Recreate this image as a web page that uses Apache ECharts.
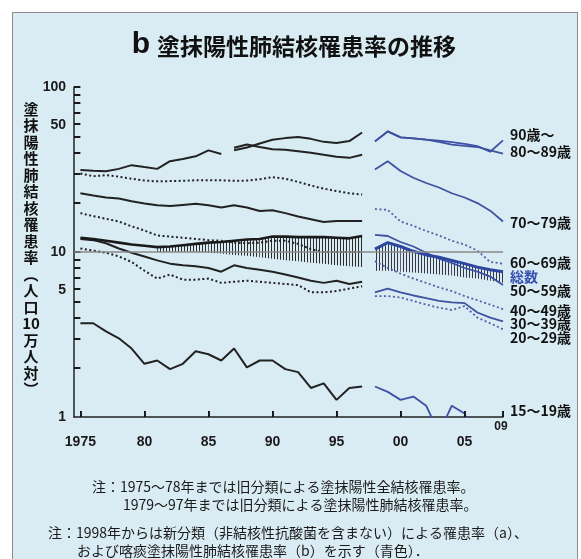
<!DOCTYPE html>
<html>
<head>
<meta charset="utf-8">
<script src="https://cdn.jsdelivr.net/npm/echarts@6/dist/echarts.min.js"></script>
<style>
  html, body { margin: 0; background: #fff; }
  .frame { position: absolute; left: 12px; top: 12px; width: 564px; height: 560px; border: 1.5px solid #8c8c8c; background: #d9ebf3; }
  #chart { position: absolute; left: 0; top: 0; width: 581px; height: 559px; }
</style>
</head>
<body>
<div class="frame"></div>
<div id="chart"></div>
<script>
// 年
const yearsOld = [1975, 1976, 1977, 1978, 1979, 1980, 1981, 1982, 1983, 1984, 1985, 1986,
  1987, 1988, 1989, 1990, 1991, 1992, 1993, 1994, 1995, 1996, 1997];
const yearsNew = [1998, 1999, 2000, 2001, 2002, 2003, 2004, 2005, 2006, 2007, 2008];
const years80Old = yearsOld.slice(0, 12);   // 1975-86 (80歳以上)
const years90Old = yearsOld.slice(12);      // 1987-97
const yearsBandOld = yearsOld.slice(6);     // 1981-97

// 旧分類 (黒)
const age80plusOld = [31.4, 31.1, 30.9, 31.9, 33.6, 32.7, 31.9, 35.5, 36.6, 38.0, 41.3, 39.3];
const age90Old = [41.4, 43.0, 45.5, 47.9, 49.0, 49.8, 48.5, 46.5, 45.8, 47.0, 53.0];
const age80Old = [42.8, 44.8, 43.3, 42.0, 41.7, 40.8, 39.9, 38.8, 37.8, 37.2, 38.9];
const age70Old = [29.9, 28.8, 29.2, 28.6, 27.8, 27.1, 26.8, 26.9, 27.0, 27.2, 27.2, 27.2,
  27.0, 27.1, 27.6, 28.4, 27.8, 26.6, 25.3, 24.2, 23.4, 22.7, 22.3];
const age60Old = [22.7, 22.0, 21.4, 21.1, 20.3, 19.7, 19.2, 19.0, 19.3, 19.6, 19.2, 18.6,
  19.2, 18.6, 17.7, 17.9, 17.2, 16.4, 15.8, 15.2, 15.4, 15.4, 15.4];
const age50Old = [17.2, 16.5, 15.9, 15.3, 14.3, 13.5, 12.6, 12.4, 12.2, 12.0, 11.8, 11.7,
  11.4, 11.3, 11.4, 11.7, 11.7, 11.2, 10.4, 10.0, 10.0, 10.0, 10.0];
const totalOld = [12.2, 12.0, 11.7, 11.4, 11.1, 10.9, 10.7, 10.8, 11.0, 11.2, 11.4, 11.5,
  11.7, 11.9, 12.0, 12.4, 12.4, 12.3, 12.3, 12.3, 12.2, 12.1, 12.5];
const hatchLowOld = [10.0, 10.0, 10.0, 10.0, 9.9, 9.8, 9.6, 9.5, 9.3, 9.1, 8.9, 8.8, 8.6, 8.5, 8.3, 8.2, 8.1];
const age40Old = [12.0, 11.8, 11.3, 10.5, 9.9, 9.4, 8.9, 8.5, 8.3, 8.2, 8.0, 7.6,
  8.3, 8.0, 7.8, 7.6, 7.3, 7.0, 6.7, 6.5, 6.7, 6.4, 6.6];
const age30Old = [10.5, 10.2, 9.9, 9.4, 8.7, 7.7, 6.9, 7.3, 6.8, 6.8, 6.9, 6.5,
  6.6, 6.7, 6.6, 6.5, 6.4, 6.3, 5.7, 5.7, 5.8, 6.0, 6.2];
const age15Old = [3.7, 3.7, 3.3, 3.0, 2.6, 2.1, 2.2, 1.95, 2.1, 2.5, 2.4, 2.2,
  2.6, 2.0, 2.2, 2.2, 1.95, 1.87, 1.5, 1.6, 1.27, 1.5, 1.53];

// 新分類 1998年～ (青)
const age90New = [46.8, 53.8, 49.5, 48.8, 48.0, 47.3, 46.4, 45.2, 43.8, 40.5, 47.5];
const age80New = [46.8, 53.8, 49.5, 48.8, 48.0, 46.5, 44.8, 44.0, 43.3, 41.3, 39.5];
const age70New = [31.6, 35.5, 31.0, 28.2, 26.2, 24.6, 22.7, 21.4, 19.8, 17.8, 15.3];
const age60New = [18.2, 18.0, 15.3, 14.4, 13.4, 12.6, 11.7, 11.1, 10.2, 8.7, 8.5];
const age50New = [12.7, 12.5, 11.5, 10.8, 9.9, 9.1, 8.6, 8.0, 7.6, 7.1, 6.3];
const totalNew = [10.4, 11.4, 10.8, 10.1, 9.6, 9.3, 8.9, 8.5, 8.1, 7.8, 7.6];
const hatchLowNew = [7.7, 7.7, 7.6, 7.5, 7.4, 7.3, 7.2, 7.0, 6.9, 6.7, 6.5];
const age40New = [8.8, 8.0, 7.4, 6.9, 6.5, 6.1, 5.8, 5.4, 5.1, 4.8, 4.5];
const age30New = [5.7, 6.0, 5.7, 5.45, 5.25, 5.05, 4.95, 4.9, 4.3, 4.0, 3.8];
const age20New = [5.4, 5.4, 5.3, 5.05, 4.8, 4.6, 4.45, 4.7, 4.0, 3.7, 3.4];
const age15New = [1.53, 1.42, 1.27, 1.33, 1.17, 0.8, 1.17, 1.05, 0.6, null, null];

// 目盛
const xMin = 1974.5;
const xMax = 2008;
const xTickYears = [1975, 1980, 1985, 1990, 1995, 2000, 2005, 2008];
const xLabelYears = [1975, 1980, 1985, 1990, 1995, 2000, 2005];
const yTickValues = [2, 3, 4, 5, 6, 7, 8, 9, 10, 20, 30, 40, 50, 60, 70, 80, 90, 100];
const yLabelValues = [1, 5, 10, 50, 100];

const ageLabels = ['90歳～', '80～89歳', '70～79歳', '60～69歳', '総数', '50～59歳',
  '40～49歳', '30～39歳', '20～29歳', '15～19歳'];

const JP = '"Noto Sans CJK JP", sans-serif';
const NUM = '"Liberation Sans", Arial, sans-serif';
const BLACK = '#222';
const BLUE = '#3d52a3';
const BLUE_DOT = '#5060a8';

function pairs(xs, ys) {
  return xs.map((x, i) => [x, ys[i]]);
}

// 縦線のハッチ
function hatch(color) {
  const c = document.createElement('canvas');
  c.width = 3;
  c.height = 4;
  const ctx = c.getContext('2d');
  ctx.fillStyle = color;
  ctx.fillRect(1, 0, 1, 4);
  return c;
}

function line(name, xs, ys, color, width, dotted) {
  return {
    name: name,
    type: 'line',
    data: pairs(xs, ys),
    symbol: 'none',
    silent: true,
    z: 3,
    lineStyle: { color: color, width: width, type: dotted ? [2, 2.5] : 'solid' },
  };
}

// 総数の下のハッチ帯 (low〜high を台形でつなぐ)
function band(xs, low, high, color) {
  const pattern = { image: hatch(color), repeat: 'repeat' };
  return {
    type: 'custom',
    silent: true,
    z: 2,
    data: xs.map((x, i) => [x, low[i], high[i]]),
    encode: { x: 0, y: [1, 2] },
    renderItem: (params, api) => {
      const i = params.dataIndex;
      if (i >= xs.length - 1) return null;
      const pts = [
        api.coord([xs[i], high[i]]),
        api.coord([xs[i + 1], high[i + 1]]),
        api.coord([xs[i + 1], low[i + 1]]),
        api.coord([xs[i], low[i]]),
      ];
      return { type: 'polygon', shape: { points: pts }, style: { fill: pattern, stroke: null } };
    },
  };
}

// 内向きの目盛線 (各目盛で短い区間の markLine)
function tickLines(name, segs) {
  return {
    name: name,
    type: 'line',
    data: [],
    silent: true,
    z: 6,
    markLine: {
      silent: true,
      symbol: 'none',
      animation: false,
      label: { show: false },
      lineStyle: { color: '#1a1a1a', width: 2, type: 'solid' },
      data: segs,
    },
  };
}

const yTickSegs = yTickValues.map((v) => [{ coord: [xMin, v] }, { coord: [xMin + 0.5, v] }]);
const xTickSegs = xTickYears.map((yr) => [{ coord: [yr, 1] }, { coord: [yr, 1.08] }]);

const series = [
  band(yearsBandOld, hatchLowOld, totalOld.slice(6), '#2a2a2a'),
  band(yearsNew, hatchLowNew, totalNew, '#353545'),
  tickLines('yticks', yTickSegs),
  tickLines('xticks', xTickSegs),
  line('80歳以上', years80Old, age80plusOld, BLACK, 2),
  line('90歳～ 旧', years90Old, age90Old, BLACK, 2),
  line('80～89歳 旧', years90Old, age80Old, BLACK, 2),
  line('70～79歳 旧', yearsOld, age70Old, BLACK, 2, true),
  line('60～69歳 旧', yearsOld, age60Old, BLACK, 2),
  line('50～59歳 旧', yearsOld, age50Old, BLACK, 2, true),
  line('40～49歳 旧', yearsOld, age40Old, BLACK, 2),
  line('30～39歳 旧', yearsOld, age30Old, BLACK, 2, true),
  line('15～19歳 旧', yearsOld, age15Old, BLACK, 2),
  line('90歳～', yearsNew, age90New, BLUE, 1.8),
  line('80～89歳', yearsNew, age80New, BLUE, 1.8),
  line('70～79歳', yearsNew, age70New, BLUE, 1.8),
  line('60～69歳', yearsNew, age60New, BLUE_DOT, 1.8, true),
  line('50～59歳', yearsNew, age50New, BLUE, 1.8),
  line('40～49歳', yearsNew, age40New, BLUE_DOT, 1.8, true),
  line('30～39歳', yearsNew, age30New, BLUE, 1.8),
  line('20～29歳', yearsNew, age20New, BLUE_DOT, 1.8, true),
  line('15～19歳', yearsNew, age15New, BLUE, 1.8),
];

const totalOldLine = line('総数 旧', yearsOld, totalOld, '#1a1a1a', 2.6);
totalOldLine.markLine = {
  silent: true,
  symbol: 'none',
  label: { show: false },
  lineStyle: { color: '#8a8a8a', width: 1.5, type: 'solid' },
  data: [{ yAxis: 10 }],
};
series.push(totalOldLine);
series.push(line('総数', yearsNew, totalNew, '#2b46a0', 3));

// 右側のラベル位置
const labelY = [135, 152, 223, 263, 277, 291, 311, 324, 338, 411];
const rightLabels = ageLabels.map((t, i) => ({
  type: 'text',
  x: 510,
  y: labelY[i],
  style: {
    text: t,
    fill: t === '総数' ? '#3550b0' : '#111',
    font: 'bold 14px ' + JP,
    verticalAlign: 'middle',
  },
}));

const notes = [
  { x: 92, y: 487, t: '注：1975～78年までは旧分類による塗抹陽性全結核罹患率。' },
  { x: 123, y: 505, t: '1979～97年までは旧分類による塗抹陽性肺結核罹患率。' },
  { x: 48, y: 533, t: '注：1998年からは新分類（非結核性抗酸菌を含まない）による罹患率（a）、' },
  { x: 77, y: 551, t: 'および喀痰塗抹陽性肺結核罹患率（b）を示す（青色）．' },
].map((n) => ({
  type: 'text',
  x: n.x,
  y: n.y,
  style: { text: n.t, fill: '#1a1a1a', font: '14px ' + JP, verticalAlign: 'middle' },
}));

const chart = echarts.init(document.getElementById('chart'));
chart.setOption({
  animation: false,
  backgroundColor: 'transparent',
  grid: { left: 74, right: 78, top: 87, bottom: 142, outerBoundsMode: 'none' },
  xAxis: {
    type: 'value',
    min: xMin,
    max: xMax,
    axisLine: { lineStyle: { color: '#222', width: 1.5 } },
    axisTick: { show: true, inside: true, length: 6, customValues: xTickYears, lineStyle: { color: '#1a1a1a', width: 2 } },
    axisLabel: {
      customValues: xLabelYears,
      formatter: (v) => (v === 1975 ? '1975' : String(v).slice(2)),
      margin: 18,
      color: '#1a1a1a',
      fontFamily: NUM,
      fontWeight: 'bold',
      fontSize: 14,
    },
    splitLine: { show: false },
  },
  yAxis: {
    type: 'log',
    logBase: 10,
    min: 1,
    max: 100,
    axisLine: { show: true, lineStyle: { color: '#222', width: 1.5 } },
    axisTick: { show: true, inside: true, length: 6, customValues: yTickValues, lineStyle: { color: '#1a1a1a', width: 2 } },
    axisLabel: {
      customValues: yLabelValues,
      formatter: (v) => (v === 5 || v === 50 ? '{u|' + v + '}' : '{n|' + v + '}'),
      margin: 8,
      rich: {
        n: { fontFamily: NUM, fontWeight: 'bold', fontSize: 14, color: '#1a1a1a' },
        u: { fontFamily: NUM, fontWeight: 'bold', fontSize: 14, color: '#1a1a1a', padding: [0, 0, 24, 0] },
      },
    },
    splitLine: { show: false },
    minorTick: { show: false },
  },
  graphic: [
    {
      type: 'text',
      x: 141,
      y: 45,
      style: { text: 'b', fill: '#111', font: 'bold 30px ' + NUM, align: 'center', verticalAlign: 'middle' },
    },
    {
      type: 'text',
      x: 157,
      y: 46,
      style: { text: '塗抹陽性肺結核罹患率の推移', fill: '#111', font: 'bold 23px ' + JP, verticalAlign: 'middle' },
    },
    {
      type: 'text',
      x: 31,
      y: 101,
      style: {
        text: '塗\n抹\n陽\n性\n肺\n結\n核\n罹\n患\n率\n︵\n人\n口\n10\n万\n人\n対\n︶',
        fill: '#111',
        font: 'bold 15px ' + JP,
        lineHeight: 16.5,
        align: 'center',
      },
    },
    {
      type: 'text',
      x: 501,
      y: 427,
      style: { text: '09', fill: '#1a1a1a', font: 'bold 12px ' + NUM, align: 'center', verticalAlign: 'middle' },
    },
    ...rightLabels,
    ...notes,
  ],
  series: series,
});
</script>
</body>
</html>
